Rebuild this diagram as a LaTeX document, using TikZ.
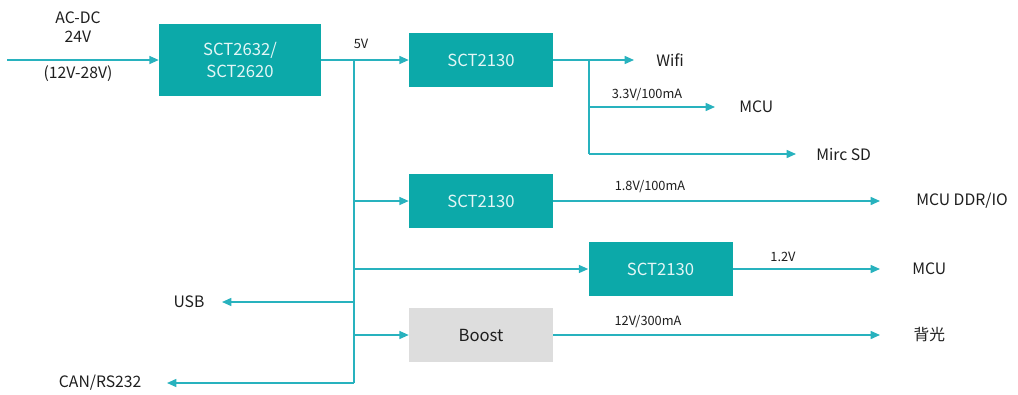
\documentclass[tikz,border=0pt]{standalone}
\usepackage{fontspec}
\setmainfont{Noto Sans CJK SC}
\usetikzlibrary{arrows.meta, positioning, calc}
\definecolor{chipteal}{HTML}{0CA9A9}
\definecolor{wireteal}{HTML}{28B2BE}
\definecolor{boostgray}{HTML}{DDDDDD}
\definecolor{ink}{HTML}{1E1E1E}
\definecolor{chiptext}{HTML}{E4F6F6}

\begin{document}
\begin{tikzpicture}[
  x=0.75pt, y=-0.75pt,
  >={Triangle[length=7pt, width=6pt]},
  chip/.style={
    fill=#1, draw=none, minimum width=108pt, minimum height=40pt,
    font=\fontsize{12.5}{14}\selectfont, text=chiptext, align=center, inner sep=0pt
  },
  sink/.style={font=\fontsize{11.8}{13}\selectfont, text=ink, anchor=west, inner ysep=2pt},
  wire/.style={line width=1.1pt, wireteal},
  arr/.style={wire, ->},
  vlbl/.style={font=\fontsize{9.6}{10}\selectfont, text=ink},
]

% Frame
\useasboundingbox (0,0) rectangle (1018,394);

% Input
\coordinate (src) at (7,60);
\node[font=\fontsize{11.8}{14}\selectfont, text=ink, align=center] (acdc) at (78,27)
  {AC-DC\\24V};
\node[font=\fontsize{11.8}{14}\selectfont, text=ink] (range) at (78,74) {(12V-28V)};

% Converter boxes
\node[chip=chipteal, minimum width=121.5pt, minimum height=54pt,
  font=\fontsize{12.5}{16}\selectfont] (main) at (240,60) {SCT2632/\\SCT2620};
\node[chip=chipteal] (ldoa) at (481,60) {SCT2130};
\node[chip=chipteal] (ldob) at (481,201) {SCT2130};
\node[chip=chipteal] (ldoc) at (660.5,269) {SCT2130};
\node[chip=boostgray, text=ink] (boost) at (481,335) {Boost};

% Loads
\node[sink, inner xsep=16.5pt] (wifi) at (634,60) {Wifi};
\node[sink, inner xsep=18pt] (mcua) at (715,107) {MCU};
\node[sink, inner xsep=15pt] (sd) at (796,154) {Mirc SD};
\node[sink, inner xsep=27pt] (ddr) at (880,201) {MCU DDR/IO};
\node[sink, inner xsep=24pt] (mcub) at (880,269) {MCU};
\node[sink, inner xsep=25pt] (light) at (880,335) {背光};
\node[sink, anchor=east, inner xsep=13pt] (usb) at (222,302) {USB};
\node[sink, anchor=east, inner xsep=19pt] (can) at (167,383) {CAN/RS232};

% Taps on the 5V bus
\coordinate (bus) at (354,60);
\coordinate (busb) at (354,201);
\coordinate (busc) at (354,269);
\coordinate (busu) at (354,302);
\coordinate (busd) at (354,335);
\coordinate (buse) at (354,383);
\coordinate (tap) at (589,60);
\coordinate (tapa) at (589,107);
\coordinate (tapb) at (589,154);

% Wiring
\draw[arr] (src) -- (main);
\draw[arr] (main) -- (ldoa);
\draw[wire] (bus) -- (buse);
\draw[arr] (busb) -- (ldob);
\draw[arr] (busc) -- (ldoc);
\draw[arr] (busu) -- (usb);
\draw[arr] (busd) -- (boost);
\draw[arr] (buse) -- (can);

\draw[arr] (ldoa) -- (wifi);
\draw[wire] (tap) -- (tapb);
\draw[arr] (tapa) -- (mcua);
\draw[arr] (tapb) -- (sd);
\draw[arr] (ldob) -- (ddr);
\draw[arr] (ldoc) -- (mcub);
\draw[arr] (boost) -- (light);

% Rail labels
\node[vlbl] at (361,44) {5V};
\node[vlbl] at (647,95) {3.3V/100mA};
\node[vlbl] at (650,187) {1.8V/100mA};
\node[vlbl] at (783,257) {1.2V};
\node[vlbl] at (648,322) {12V/300mA};

\end{tikzpicture}
\end{document}
